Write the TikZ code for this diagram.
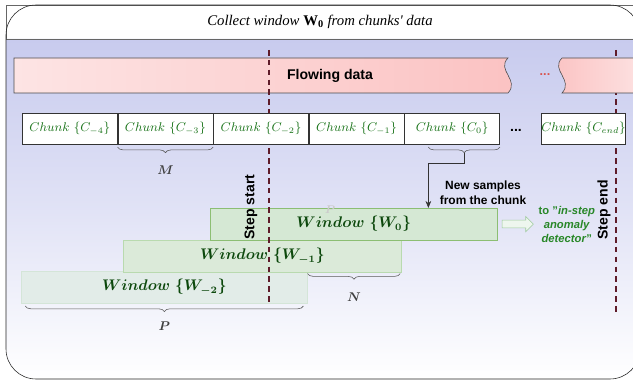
\documentclass[tikz,border=0pt]{standalone}
\usepackage{fontspec}
\setsansfont{Liberation Sans}
\newfontfamily\titlefont{Liberation Serif}
\usepackage{amsmath,bm}
\usepackage{tikz}
\usetikzlibrary{arrows.meta,positioning,shapes.arrows,decorations.pathreplacing}
\definecolor{lavbg}{RGB}{200,203,238}
\definecolor{flowlt}{RGB}{253,228,228}
\definecolor{flowdk}{RGB}{251,194,194}
\definecolor{chunkgreen}{RGB}{25,115,25}
\definecolor{wingreen}{RGB}{12,72,12}
\definecolor{stepred}{RGB}{95,28,42}
\definecolor{wzerofill}{RGB}{213,232,212}
\definecolor{wzerodraw}{RGB}{140,190,115}
\definecolor{wonefill}{RGB}{219,234,217}
\definecolor{wonedraw}{RGB}{185,218,175}
\definecolor{wtwofill}{RGB}{226,236,232}
\definecolor{wtwodraw}{RGB}{212,229,216}
\definecolor{outgreen}{RGB}{40,135,40}
\definecolor{dotred}{RGB}{217,83,79}

\begin{document}
\begin{tikzpicture}[x=0.025cm, y=-0.025cm,
    chunk/.style={draw=black!80, fill=white, minimum width=2.375cm,
                  minimum height=0.775cm, inner sep=0pt,
                  font=\small, text=chunkgreen},
    win/.style={minimum height=0.79cm, inner sep=0pt,
                text=wingreen, font=\fontsize{10.5}{12}\selectfont},
    brc/.style={decorate, decoration={brace, mirror, amplitude=4pt},
                draw=black!65},
    blbl/.style={text=black!75, font=\small},
    steplbl/.style={font=\sffamily\bfseries, rotate=90},
    stepline/.style={draw=stepred, line width=1pt, dash pattern=on 4pt off 3pt},
    arr/.style={-{Stealth[length=5pt,width=4pt]}, draw=black!80},
    sans/.style={font=\sffamily\bfseries\fontsize{8.5}{10.5}\selectfont, align=center}
  ]
    \useasboundingbox (0,0) rectangle (633,380);
    \clip (0,0) rectangle (633,380);

    \draw[black!60, fill=white] (6,5) rectangle (645,39);
    \shade[top color=lavbg, bottom color=white, middle color=lavbg!55!white]
      (6,39) [rounded corners=0.75cm] -- (6,379) -- (645,379) [sharp corners] -- (645,39) -- cycle;
    \draw[black!60] (6,39) -- (645,39);
    \draw[black!85, rounded corners=0.75cm] (6,5) rectangle (640,379);
    \node[font=\titlefont\itshape\fontsize{10.5}{12}\selectfont] (title) at (320,22)
      {Collect window {\upshape\bfseries W\textsubscript{0}} from chunks' data};

    \draw[stepline] (616,50) -- (616,312);

    \shadedraw[left color=flowlt, right color=flowdk, draw=black!70]
      (14,58) -- (508,58) .. controls (496,70) and (520,80) .. (508,93) -- (14,93) -- cycle;
    \shadedraw[left color=flowdk, right color=flowlt, draw=black!70]
      (562,58) .. controls (550,70) and (574,80) .. (562,93) -- (650,93) -- (650,58) -- cycle;
    \node[font=\sffamily\bfseries] (flow) at (330,76) {Flowing data};
    \node[font=\sffamily\bfseries\small, text=dotred] (flowdots) at (545,75) {...};

    \node[win, fill=wtwofill, draw=wtwodraw, minimum width=7.15cm, anchor=north west]
      (wm2) at (21,271) {$\bm{Window\ \{W_{-2}\}}$};
    \node[win, fill=wonefill, draw=wonedraw, minimum width=6.95cm, anchor=north west]
      (wm1) at (123,240) {$\bm{Window\ \{W_{-1}\}}$};
    \node[win, fill=wzerofill, draw=wzerodraw, minimum width=7.175cm, anchor=north west]
      (w0) at (210,208) {$\bm{Window\ \{W_{0}\}}$};
    \node[text=black!20, font=\footnotesize] (ghost) at (330,210) {$\bm{P}$};

    \draw[stepline] (269,50) -- (269,303);
    \node[steplbl] (sstart) at (251,207) {Step start};
    \node[steplbl] (send) at (604,210) {Step end};

    \node[chunk, anchor=west] (cm4) at (22,128.5) {$Chunk\ \{C_{-4}\}$};
    \node[chunk, right=0pt of cm4] (cm3) {$Chunk\ \{C_{-3}\}$};
    \node[chunk, right=0pt of cm3] (cm2) {$Chunk\ \{C_{-2}\}$};
    \node[chunk, right=0pt of cm2] (cm1) {$Chunk\ \{C_{-1}\}$};
    \node[chunk, right=0pt of cm1] (c0) {$Chunk\ \{C_{0}\}$};
    \node[font=\sffamily\bfseries] (cdots) at (516,130) {...};
    \node[chunk, minimum width=2.1cm, anchor=west] (cend) at (541,128.5) {$Chunk\ \{C_{end}\}$};

    \draw[brc] ([yshift=-2pt]cm3.south west) -- ([yshift=-2pt]cm3.south east)
      node[midway, below=10pt, blbl] (m) {$\bm{M}$};
    \draw[brc] ([xshift=0.6cm,yshift=-2pt]c0.south west) coordinate (nsl)
      -- ([yshift=-2pt]c0.south east) node[midway, below=4pt, coordinate] (nstip) {};
    \draw[arr] (nstip) -- ++(0,11) -| (nsl |- w0.north);
    \node[sans] (newtxt) at (483,193) {New samples\\from the chunk};

    \draw[brc] ([yshift=-1pt]wm2.east |- wm1.south) -- ([xshift=-1pt,yshift=-1pt]wm1.south east)
      node[midway, below=10pt, blbl] (n) {$\bm{N}$};
    \draw[brc] ([xshift=3pt,yshift=-2pt]wm2.south west) -- ([xshift=-3pt,yshift=-2pt]wm2.south east)
      node[midway, below=8pt, blbl] (p) {$\bm{P}$};

    \node[single arrow, draw=outgreen!45, fill=wzerofill!40, minimum height=0.78cm,
          minimum width=0.38cm, inner sep=2.4pt, single arrow head extend=2.5pt,
          anchor=west] (outarr) at ([xshift=3pt]w0.east) {};
    \node[sans, font=\sffamily\bfseries\fontsize{8}{10}\selectfont, text=outgreen,
          right=0pt of outarr] (dest)
      {to "\textit{in-step}\\\textit{anomaly}\\\textit{detector}"};
  \end{tikzpicture}
\end{document}
